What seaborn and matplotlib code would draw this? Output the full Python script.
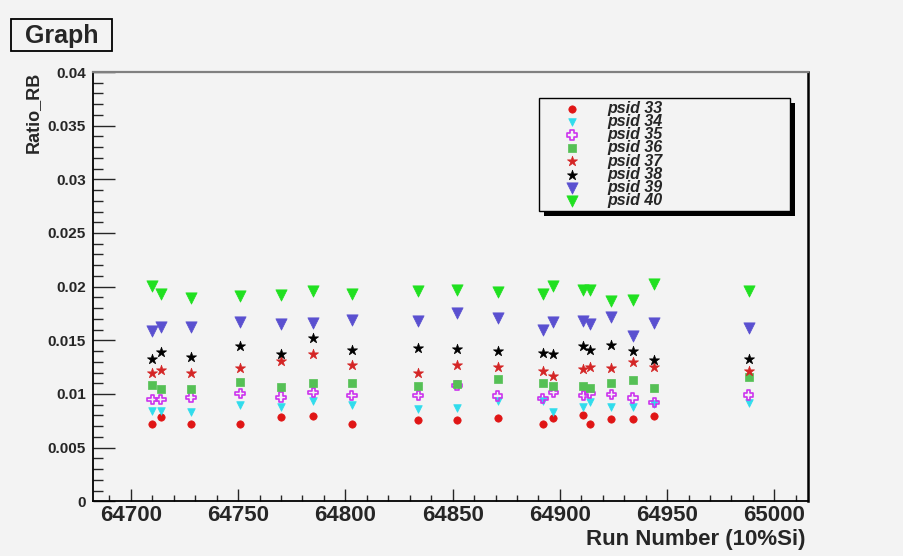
import matplotlib
matplotlib.use('Agg')
import matplotlib.pyplot as plt
import numpy as np
import pandas as pd
import seaborn as sns
from matplotlib.patches import Rectangle
from matplotlib.ticker import MultipleLocator

# run numbers (10% Si) and Ratio_RB per psid
runs = [64710, 64714, 64728, 64751, 64770, 64785, 64803, 64834, 64852,
        64871, 64892, 64897, 64911, 64914, 64924, 64934, 64944, 64988]

psid33 = [0.00722, 0.00790, 0.00722, 0.00722, 0.00784, 0.00796, 0.00722, 0.00753, 0.00753,
          0.00778, 0.00722, 0.00778, 0.00808, 0.00722, 0.00765, 0.00765, 0.00799, np.nan]
psid34 = [0.00839, 0.00839, 0.00830, 0.00901, 0.00882, 0.00938, 0.00901, 0.00861, 0.00870,
          0.00938, 0.00930, 0.00830, 0.00876, 0.00922, 0.00876, 0.00882, 0.00910, 0.00913]
psid35 = [0.00950, 0.00950, 0.00969, 0.01005, 0.00969, 0.01012, 0.00987, 0.00987, 0.01080,
          0.00981, 0.00959, 0.01015, 0.00984, 0.01005, 0.00994, 0.00963, 0.00922, 0.00991]
psid36 = [0.01086, 0.01049, 0.01046, 0.01107, 0.01068, 0.01098, 0.01098, 0.01077, 0.01093,
          0.01139, 0.01098, 0.01077, 0.01077, 0.01055, 0.01098, 0.01133, 0.01055, 0.01154]
psid37 = [0.01191, 0.01225, 0.01191, 0.01246, 0.01308, 0.01370, 0.01271, 0.01200, 0.01271,
          0.01253, 0.01216, 0.01170, 0.01231, 0.01253, 0.01246, 0.01302, 0.01253, 0.01216]
psid38 = [0.01330, 0.01395, 0.01345, 0.01447, 0.01376, 0.01524, 0.01407, 0.01426, 0.01417,
          0.01401, 0.01383, 0.01376, 0.01447, 0.01407, 0.01454, 0.01401, 0.01315, 0.01330]
psid39 = [0.01586, 0.01623, 0.01623, 0.01672, 0.01654, 0.01663, 0.01685, 0.01679, 0.01756,
          0.01704, 0.01593, 0.01672, 0.01679, 0.01654, 0.01716, 0.01540, 0.01663, 0.01617]
psid40 = [0.02003, 0.01935, 0.01895, 0.01910, 0.01926, 0.01957, 0.01935, 0.01963, 0.01972,
          0.01950, 0.01935, 0.02003, 0.01972, 0.01972, 0.01870, 0.01880, 0.02024, 0.01957]

labels = ['psid 33', 'psid 34', 'psid 35', 'psid 36', 'psid 37', 'psid 38', 'psid 39', 'psid 40']
series = [psid33, psid34, psid35, psid36, psid37, psid38, psid39, psid40]

# marker, color, size, filled
styles = {
    'psid 33': ('o', '#e01515', 28, True),
    'psid 34': ('v', '#30dcec', 30, True),
    'psid 35': ('P', '#cc33ee', 48, False),
    'psid 36': ('s', '#55c055', 26, True),
    'psid 37': ('*', '#d42525', 58, True),
    'psid 38': ('*', '#000000', 58, True),
    'psid 39': ('v', '#5a50d0', 66, True),
    'psid 40': ('v', '#20e020', 66, True),
}

bg = '#f3f3f3'
sns.set_style('ticks')
plt.rcParams['font.family'] = ['Liberation Sans', 'DejaVu Sans']
plt.rcParams['font.weight'] = 'bold'

fig = plt.figure(figsize=(9.04, 5.56), dpi=100, facecolor=bg)
ax = fig.add_axes([0.1025, 0.0984, 0.7916, 0.7721], facecolor=bg)

df = pd.DataFrame({'run': runs})
for lab, vals in zip(labels, series):
    df[lab] = vals

for lab in labels:
    mk, col, s, filled = styles[lab]
    if filled:
        sns.scatterplot(data=df, x='run', y=lab, ax=ax, marker=mk, s=s,
                        color=col, edgecolor=col, linewidth=0.5, label=lab, zorder=3)
    else:
        sns.scatterplot(data=df, x='run', y=lab, ax=ax, marker=mk, s=s,
                        color=col, facecolor='none', edgecolor=col, linewidth=1.2,
                        label=lab, zorder=3)

xmin, xmax = min(runs), max(runs)
pad = 0.1 * (xmax - xmin)
ax.set_xlim(xmin - pad, xmax + pad)
ax.set_ylim(0, 0.04)

ax.xaxis.set_major_locator(MultipleLocator(50))
ax.xaxis.set_minor_locator(MultipleLocator(10))
ax.yaxis.set_major_locator(MultipleLocator(0.005))
ax.yaxis.set_minor_locator(MultipleLocator(0.001))
ax.yaxis.set_major_formatter(plt.FuncFormatter(lambda v, p: ('%g' % round(v, 4))))

ax.tick_params(axis='x', which='major', direction='in', length=8.5, width=1,
               labelsize=16, pad=3, top=False)
ax.tick_params(axis='x', which='minor', direction='in', length=4.3, width=1, top=False)
ax.tick_params(axis='y', which='major', direction='in', length=15.8, width=1,
               labelsize=11, pad=5, right=False)
ax.tick_params(axis='y', which='minor', direction='in', length=7.5, width=1, right=False)
for t in ax.get_xticklabels() + ax.get_yticklabels():
    t.set_fontweight('bold')

for side in ['left', 'bottom']:
    ax.spines[side].set_color('black')
    ax.spines[side].set_linewidth(1.3)
ax.spines['top'].set_color('#808080')
ax.spines['top'].set_linewidth(1.6)
ax.spines['right'].set_color('black')
ax.spines['right'].set_linewidth(1.8)

ax.set_xlabel('')
ax.set_ylabel('')
fig.text(806 / 904, 1 - 539 / 556, 'Run Number (10%Si)', ha='right', va='center',
         fontsize=16, fontweight='bold')
fig.text(33 / 904, 1 - 72 / 556, 'Ratio_RB', rotation=90, ha='center', va='top',
         fontsize=13, fontweight='bold')

# title box
fig.patches.append(Rectangle((11 / 904, 1 - 51 / 556), 101 / 904, 32 / 556,
                             transform=fig.transFigure, facecolor=bg,
                             edgecolor='black', linewidth=1.3))
fig.text(61.5 / 904, 1 - 35.5 / 556, 'Graph', ha='center', va='center',
         fontsize=18, fontweight='bold')

leg = ax.legend(loc='upper left', bbox_to_anchor=(0.624, 0.690, 0.3505, 0.2487),
                mode='expand', frameon=True, fancybox=False, framealpha=1,
                edgecolor='black', facecolor=bg, borderpad=0.15, labelspacing=-0.11,
                handlelength=3.8, handletextpad=0.3, borderaxespad=0,
                prop={'size': 11.5, 'weight': 'bold', 'style': 'italic'})
leg.get_frame().set_linewidth(1.0)
leg.set_zorder(6)

# legend shadow
fig.canvas.draw()
bb = leg.get_window_extent().transformed(ax.transAxes.inverted())
dx = 5 / (0.7916 * 904)
dy = 5 / (0.7721 * 556)
ax.add_patch(Rectangle((bb.x0 + dx, bb.y0 - dy), bb.width, bb.height,
                       transform=ax.transAxes, facecolor='black', edgecolor='none',
                       zorder=5.5, clip_on=False))

fig.savefig('out.png', dpi=100, facecolor=bg)
